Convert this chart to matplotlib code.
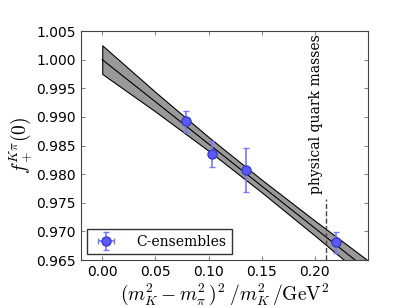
import numpy as np
import matplotlib
matplotlib.use("Agg")
import matplotlib.pyplot as plt
from matplotlib.legend_handler import HandlerErrorbar
from matplotlib.container import ErrorbarContainer

# lattice points (C-ensembles)
x_pts = [0.079, 0.103, 0.135, 0.220]
y_pts = [0.9892, 0.9835, 0.9807, 0.9681]
y_err = [0.0018, 0.0023, 0.0038, 0.0018]

# fit line and error band
x_fit = [0.00, 0.05, 0.10, 0.15, 0.20, 0.25]
y_fit = [1.0000, 0.99264, 0.98528, 0.97792, 0.97056, 0.9632]
band_hw = [0.0025, 0.0017, 0.0012, 0.0011, 0.0013, 0.0017]

x_phys = 0.21
y_phys_top = 0.9757

y_ticks = [0.965, 0.970, 0.975, 0.980, 0.985, 0.990, 0.995, 1.000, 1.005]
x_ticks = [0.00, 0.05, 0.10, 0.15, 0.20]

plt.rcParams['mathtext.fontset'] = 'cm'

fig = plt.figure(figsize=(4.09, 3.07), dpi=100)
ax = fig.add_axes([0.198, 0.153, 0.702, 0.746])

yf = np.array(y_fit)
hw = np.array(band_hw)
ax.fill_between(x_fit, yf - hw, yf + hw, facecolor='#999999', edgecolor='black', lw=0.8)
ax.plot(x_fit, y_fit, color='black', lw=0.8)

ax.errorbar(x_pts, y_pts, yerr=y_err, xerr=[0] * len(x_pts), fmt='o', color='#5a5aff',
            ecolor='#7878ff', mec='#3a3acc', ms=6.5, elinewidth=1.2, capsize=2,
            label='C-ensembles', zorder=5)

ax.plot([x_phys, x_phys], [0.965, y_phys_top], ls='--', color='#444444', lw=1)
ax.text(x_phys - 0.002, 0.9905, 'physical quark masses', rotation=90, ha='right', va='center',
        family='DejaVu Serif', fontsize=10)

ax.set_xlim(-0.02, 0.25)
ax.set_ylim(0.965, 1.005)
ax.set_xticks(x_ticks)
ax.set_yticks(y_ticks)
ax.set_xticklabels(['%.2f' % v for v in x_ticks])
ax.set_yticklabels(['%.3f' % v for v in y_ticks])
ax.tick_params(direction='in', top=True, right=True, labelsize=10, color='#888888', length=3)
for s in ax.spines.values():
    s.set_color('#444444')

ax.set_ylabel(r'$f_+^{K\pi}(0)$', fontsize=14, labelpad=2)
ax.set_xlabel(r'$(m_K^2 - m_\pi^2\,)^2\;/m_K^2\,/\mathrm{GeV}^2$', fontsize=14, labelpad=2)

leg = ax.legend(loc='lower left', fancybox=False, prop={'family': 'DejaVu Serif', 'size': 10},
                borderaxespad=0.4, handletextpad=1.2,
                handler_map={ErrorbarContainer: HandlerErrorbar(xerr_size=0.55, yerr_size=0.65)})
leg.get_frame().set_edgecolor('black')

fig.savefig('out.png', dpi=100)
